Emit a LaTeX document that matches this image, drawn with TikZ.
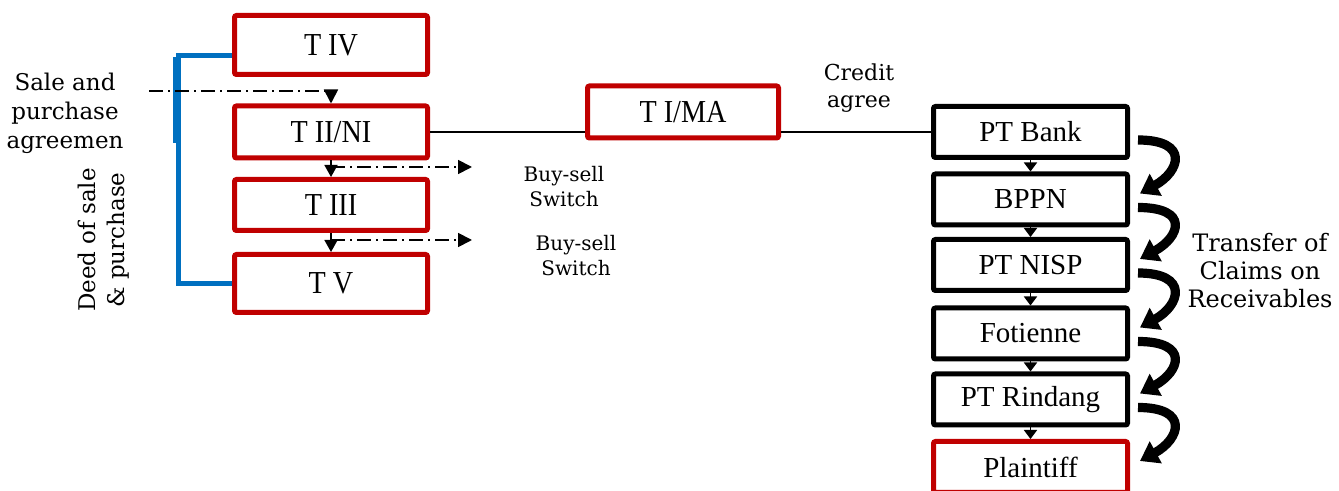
\documentclass[tikz,border=0pt]{standalone}
\usepackage{fontspec}
\setmainfont{Liberation Serif}[FakeStretch=0.88]
\newfontfamily\bankserif{Liberation Serif}
\newfontfamily\labelserif{DejaVu Serif}
\usetikzlibrary{arrows.meta,calc}
\definecolor{boxred}{HTML}{C00000}
\definecolor{deedblue}{HTML}{0070C0}

\tikzset{
  partybox/.style={draw=boxred,line width=2.5pt,rounded corners=1pt,fill=white,
    minimum width=96.5pt,inner sep=0pt,font=\fontsize{16}{18}\selectfont},
  bankbox/.style={draw=black,line width=2.5pt,rounded corners=1pt,fill=white,
    minimum width=97pt,minimum height=25.5pt,inner sep=0pt,
    font=\bankserif\fontsize{14.5}{16}\selectfont},
  note/.style={align=center,inner sep=0pt,font=\labelserif\fontsize{11.5}{14.5}\selectfont},
  smallnote/.style={align=center,inner sep=0pt,font=\labelserif\fontsize{10}{12.5}\selectfont},
  switchline/.style={line width=0.9pt,dash pattern=on 7pt off 2.5pt on 1pt off 2.5pt,
    -{Triangle[length=7pt,width=7pt]}},
  downtip/.style={line width=0.8pt,-{Triangle[length=6pt,width=6.5pt]}},
  banktip/.style={line width=0.8pt,-{Triangle[length=4.5pt,width=6.5pt]}},
  turnarrow/.style={line width=4.6pt,-{Triangle[length=9pt,width=12pt]}},
}

\begin{document}
\begin{tikzpicture}[x=0.5pt,y=-0.5pt]
\clip (0,0) rectangle (1339,491);
\fill[white] (0,0) rectangle (1339,491);

% the buyers on the left
\node[partybox,minimum height=29.5pt] (tiv) at (331,45) {T IV};
\node[partybox,minimum height=26pt] (tii) at (331,132) {T II/NI};
\node[partybox,minimum height=25.5pt] (tiii) at (331,205) {T III};
\node[partybox,minimum height=29pt] (tv) at (331,283.5) {T V};
\node[partybox,minimum width=95.5pt,minimum height=26pt] (tima) at (683,112) {T I/MA};

% creditors on the right
\node[bankbox] (bank) at (1030.5,132) {PT Bank};
\node[bankbox] (bppn) at (1030.5,199.5) {BPPN};
\node[bankbox] (nisp) at (1030.5,265) {PT NISP};
\node[bankbox] (fot) at (1030.5,333.5) {Fotienne};
\node[bankbox] (rin) at (1030.5,399.5) {PT Rindang};
\node[bankbox,draw=boxred] (plain) at (1030.5,467) {Plaintiff};

% labels
\node[note] (sale) at (65,113) {Sale and\\purchase\\agreemen};
\node[note,rotate=90] (deed) at (104,240) {Deed of sale\\\& purchase};
\node[smallnote] (bs1) at (564,187) {Buy-sell\\Switch};
\node[smallnote] (bs2) at (576,256) {Buy-sell\\Switch};
\node[note,font=\labelserif\fontsize{11}{13.5}\selectfont] (credit) at (859,88) {Credit\\agree};
\node[note,font=\labelserif\fontsize{12}{14}\selectfont] (transfer) at (1260,271)
  {Transfer of\\Claims on\\Receivables};

\coordinate (saleend) at (149,91);
\coordinate (sw1) at (472,167);
\coordinate (sw2) at (472,240);

% deed bracket
\draw[deedblue,line width=2.5pt] ($(tiv.west)+(0,11)$) -- ++(-54,0) |- (tv.west);
\draw[deedblue,line width=2pt] ($(tiv.west)+(-57,12)$) -- ++(0,86);

% transfers between the buyers
\draw[switchline] (saleend) -| (tii.north);
\draw[downtip] (tii) -- (tiii);
\draw[downtip] (tiii) -- (tv);
\draw[switchline] (tii.south |- sw1) -- (sw1);
\draw[switchline] (tiii.south |- sw2) -- (sw2);

% credit agreement
\draw[line width=1pt] (tii.east) -- (tii.east -| tima.west);
\draw[line width=1pt] (tii.east -| tima.east) -- (bank.west);

% claims passed down the chain
\foreach \a/\b in {bank/bppn,bppn/nisp,nisp/fot,fot/rin,rin/plain}{
  \draw[banktip] (\a) -- (\b);
  \draw[turnarrow] ($(\a.east)+(8,8)$) .. controls +(52,0) and +(40,-22) .. ($(\b.east)+(10,-6)$);
}
\end{tikzpicture}
\end{document}
